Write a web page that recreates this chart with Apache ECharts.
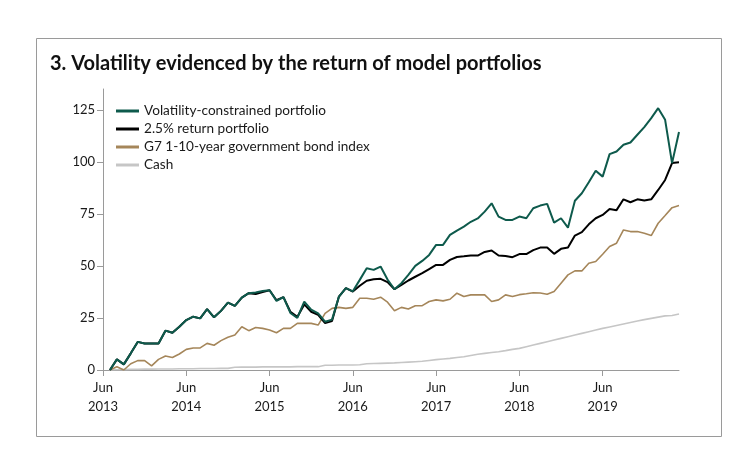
<!DOCTYPE html>
<html>
<head>
<meta charset="utf-8">
<script src="https://cdn.jsdelivr.net/npm/echarts@6/dist/echarts.min.js"></script>
<style>
  html, body { margin: 0; padding: 0; background: #fff; }
  #chart { width: 750px; height: 463px; }
</style>
</head>
<body>
<div id="chart"></div>
<script>
// Month-end categories: index 0 = end May 2013 (start of Jun 2013), last = end Apr 2020
const months = [];
for (let k = 0; k < 84; k++) {
  const m = 4 + k; // 0-based month offset from Jan 2013 (4 = May)
  const y = 2013 + Math.floor(m / 12);
  const mm = (m % 12) + 1;
  months.push(y + '-' + String(mm).padStart(2, '0'));
}
const tickLabels = ['Jun\n2013', 'Jun\n2014', 'Jun\n2015', 'Jun\n2016', 'Jun\n2017', 'Jun\n2018', 'Jun\n2019'];
const yTicks = [0, 25, 50, 75, 100, 125];

const seriesNames = [
  'Volatility-constrained portfolio',
  '2.5% return portfolio',
  'G7 1-10-year government bond index',
  'Cash'
];

const volatility = [null,0,5.1,2.7,8,13.5,12.7,12.7,12.7,18.9,17.9,20.8,24,25.6,24.8,29.2,25.3,28.4,32.4,30.8,34.8,36.9,37.2,38,38.3,33.2,35,27.4,25,32.8,29,27.2,23.2,24.2,35.3,39.3,37.8,43.3,48.9,48.1,49.7,43.5,38.8,41.7,45.7,50,52.4,55.3,60.1,60.1,64.9,67,68.9,71.2,72.8,76.1,80.1,73.7,72.1,72.1,73.7,72.9,77.7,79,79.8,70.8,72.9,68.4,81.3,84.9,90.2,95.7,92.9,103.7,105,108.2,109.3,113,116.7,121,125.8,120.2,99.4,114.3];
const return25 = [null,0,5.1,2.7,8,13.5,12.7,12.7,12.7,18.9,17.9,20.8,24,25.6,24.8,29.2,25.3,28.4,32.4,30.8,34.8,36.9,36.5,37.5,38.3,33.5,35,28,25.5,31.5,28,26.5,22.5,23.5,35.3,39.3,37.7,40.5,42.9,43.6,43.8,42.2,38.8,40.9,43,44.8,46.5,48.5,50.5,50.5,52.9,54.3,54.6,55,55,56.7,57.4,55,54.8,54.2,55.7,55.7,57.6,58.8,58.8,55.8,58.2,58.8,64.6,66.2,70,72.9,74.5,77.4,76.8,82,80.6,82,81.4,82,86.5,91.3,99.4,99.8];
const g7Bonds = [null,0,1.6,0,3,4.5,4.5,2,5.1,6.7,6,7.7,9.9,10.6,10.6,12.8,11.9,14.1,15.7,16.8,20.8,18.9,20.4,20,19.2,17.9,20,20,22.4,22.4,22.4,21.6,27.2,29.6,30.1,29.6,30.1,34.5,34.5,34,35,32.6,28.5,30.1,29.3,30.9,30.9,32.9,33.7,33.2,34,36.9,35.3,36.1,36.1,36.1,32.9,33.7,36.1,35.3,36.2,36.6,37.1,37,36.4,37.7,41.7,45.7,47.6,47.6,51.3,52.1,55.6,59.3,60.9,67.3,66.5,66.5,65.7,64.6,70.5,74.2,78,79];
const cash = [null,0,0.1,0.2,0.3,0.3,0.4,0.4,0.5,0.5,0.5,0.6,0.6,0.6,0.7,0.7,0.7,0.8,0.8,1.3,1.4,1.4,1.4,1.5,1.5,1.5,1.5,1.5,1.6,1.6,1.6,1.6,2.3,2.3,2.4,2.4,2.4,2.5,3.0,3.1,3.2,3.3,3.4,3.6,3.8,4.0,4.2,4.6,5.0,5.3,5.6,6.0,6.4,7.0,7.6,8.0,8.4,8.8,9.3,9.9,10.4,11.2,12.0,12.8,13.6,14.4,15.2,16.0,16.8,17.6,18.4,19.2,20.0,20.7,21.4,22.1,22.8,23.5,24.2,24.8,25.4,26.0,26.2,26.9];

const colors = ['#0e5a4c', '#000000', '#a5865a', '#c6c6c6'];
const widths = [2, 2, 1.6, 1.6];
const FONT = 'Lato, "Open Sans", sans-serif';
const textColor = '#1a1a1a';

const chart = echarts.init(document.getElementById('chart'), null, { renderer: 'canvas' });

const seriesData = [volatility, return25, g7Bonds, cash];
const series = [];
for (let s = 3; s >= 0; s--) {
  series.push({
    name: seriesNames[s],
    type: 'line',
    data: seriesData[s],
    symbol: 'none',
    smooth: false,
    lineStyle: { color: colors[s], width: widths[s] },
    itemStyle: { color: colors[s] },
    z: 10 - s,
    animation: false
  });
}

chart.setOption({
  animation: false,
  backgroundColor: '#ffffff',
  title: {
    text: '3. Volatility evidenced by the return of model portfolios',
    left: 45,
    top: 49,
    textStyle: { fontFamily: FONT, fontSize: 20, fontWeight: 'bold', color: '#111' }
  },
  graphic: [{
    type: 'rect',
    shape: { x: 36.5, y: 38.5, width: 685, height: 398 },
    style: { fill: 'none', stroke: '#9a9a9a', lineWidth: 1 },
    silent: true
  }],
  legend: {
    orient: 'vertical',
    left: 111,
    top: 97,
    itemWidth: 23,
    itemHeight: 3,
    itemGap: 0,
    icon: 'rect',
    data: seriesNames.map((n, i) => ({ name: n, itemStyle: { color: colors[i] } })),
    textStyle: { fontFamily: FONT, fontSize: 13.6, color: textColor, lineHeight: 18 }
  },
  grid: { left: 103, right: 71, top: 89, bottom: 93, containLabel: false },
  xAxis: {
    type: 'category',
    data: months,
    boundaryGap: false,
    axisLine: { lineStyle: { color: '#9a9a9a', width: 1 } },
    axisTick: {
      show: true, length: 6, lineStyle: { color: '#9a9a9a' },
      interval: (idx) => idx % 12 === 0
    },
    axisLabel: {
      interval: (idx) => idx % 12 === 0,
      formatter: (val, idx) => tickLabels[idx / 12] || '',
      fontFamily: FONT, fontSize: 13, color: textColor, lineHeight: 19, margin: 8
    },
    splitLine: { show: false }
  },
  yAxis: {
    type: 'value',
    min: 0,
    max: 135,
    axisLine: { show: true, lineStyle: { color: '#9a9a9a', width: 1 } },
    axisTick: { show: true, length: 6, lineStyle: { color: '#9a9a9a' }, customValues: yTicks },
    axisLabel: { customValues: yTicks, fontFamily: FONT, fontSize: 13, color: textColor, margin: 8 },
    splitLine: { show: false }
  },
  series: series
});
</script>
</body>
</html>
